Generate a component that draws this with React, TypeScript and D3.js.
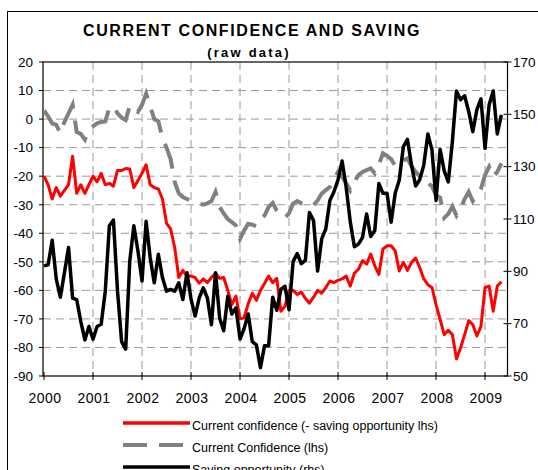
import React from "react";
import * as d3 from "d3";

// monthly, Jan 2000 .. May 2009
const currentConfidenceNet = [
  -20, -23, -28, -24, -27, -25, -23, -13, -26, -23, -26, -23,
  -20, -22, -19, -23, -22.5, -23.5, -18, -18, -17.3, -17.5, -24, -21.5,
  -19, -16, -23, -24, -24.5, -28, -36.5, -38.5, -45, -55.5, -53, -55,
  -55, -55.5, -57.5, -56, -57.3, -55.5, -54, -55.8, -55.5, -60, -65, -62,
  -70, -69.6, -64.7, -61, -63.5, -60, -57.6, -55, -57.3, -55.8, -67.3, -65.6,
  -60, -60, -61.4, -60.6, -62.8, -64.5, -62.4, -60, -61, -59, -56.7, -57.3,
  -56.5, -56, -55, -58.5, -54, -52.6, -49.6, -50.8, -47.3, -51.4, -54.4, -45.5,
  -44.4, -44.4, -46.1, -53.2, -50.2, -53, -50.2, -48.7, -52, -56, -58, -59,
  -65, -70.2, -75.5, -74, -75.5, -84, -80.2, -75.5, -70.6, -72, -76, -72.6,
  -59, -58.5, -67.3, -58.5, -57,
];

const currentConfidence = [
  3, 1, -1.5, -2, -5, -1, 2, 5, -4.5, -5.2, -7.2, -3.8,
  -2.5, -1.5, -1, -0.8, 3.9, 4.5, 2, 0.5, -0.3, 4.7, 3.5, 2.5,
  5, 8.9, 4.5, 0, -0.8, -6.7, -10, -14, -22, -26, -27.3, -28,
  -28.5, -29, -29.6, -30, -29.5, -28.7, -25.5, -30.8, -33, -35, -36.1, -37.3,
  -42, -39, -36.7, -37, -37.5, -35, -33.8, -30.8, -29.4, -32, -33.5, -34.6,
  -33, -29.6, -28.7, -29.5, -30, -30.5, -30.2, -28.5, -26.1, -24.9, -23.8, -21,
  -18.5, -20.2, -22.5, -25, -22, -19.6, -18.5, -17.9, -17.3, -19, -16, -12,
  -12.9, -14, -16.5, -16, -14.5, -13.8, -16.5, -18.5, -20, -21, -22.5, -23.5,
  -26.7, -27.5, -34.6, -33.2, -30.6, -33.8, -31.5, -28, -25.5, -28.7, -26.5, -24.4,
  -19.6, -16.7, -20.2, -18.5, -15.5,
];

const savingOpportunity = [
  92.1, 92.5, 101.9, 87.0, 80.1, 89.5, 99.1, 79.8, 79.2, 70.9, 63.8, 68.9,
  64.1, 68.9, 69.8, 82.4, 107.4, 109.6, 82.4, 63.1, 60.3, 94.0, 107.4, 97.8,
  86.3, 109.1, 95.2, 85.6, 96.5, 87.6, 82.4, 83.1, 82.4, 85.6, 79.2, 89.5,
  79.4, 72.9, 79.8, 83.7, 79.8, 69.6, 89.5, 72.2, 67.3, 80.5, 73.7, 76.0,
  64.1, 68.1, 73.7, 63.1, 61.9, 53.2, 61.6, 61.6, 80.1, 75.1, 83.1, 84.3,
  75.3, 93.7, 96.8, 92.9, 94.2, 112.5, 109.4, 90.1, 102.4, 106.2, 117.1, 120.4,
  125.0, 132.2, 122.0, 108.9, 99.4, 100.4, 103.0, 111.9, 103.3, 105.6, 123.6, 119.8,
  119.8, 108.8, 119.8, 124.9, 137.7, 140.4, 130.6, 122.6, 125.0, 130.6, 142.5, 136.4,
  117.1, 136.6, 128.4, 124.2, 139.6, 158.9, 155.6, 157.1, 151.1, 143.4, 151.8, 155.9,
  137.0, 153.7, 158.9, 142.5, 149.8,
];

const years = [2000, 2001, 2002, 2003, 2004, 2005, 2006, 2007, 2008, 2009];
const leftTicks = [20, 10, 0, -10, -20, -30, -40, -50, -60, -70, -80, -90];
const rightTicks = [170, 150, 130, 110, 90, 70, 50];

const legendItems = [
  { label: "Current confidence (- saving opportunity lhs)", color: "#ff0000", dash: "none", width: 3.5 },
  { label: "Current Confidence (lhs)", color: "#808080", dash: "24,12", width: 4 },
  { label: "Saving opportunity (rhs)", color: "#000000", dash: "none", width: 3.5 },
];

const font = "'Liberation Sans', Arial, sans-serif";

export default function App() {
  const left = 43, right = 507.5, top = 62, bottom = 376;

  const x = d3.scaleLinear().domain([-0.25, 113.5]).range([left, right]);
  const yL = d3.scaleLinear().domain([-90, 20]).range([bottom, top]);
  const yR = d3.scaleLinear().domain([50, 170]).range([bottom, top]);

  const lineL = d3.line<number>().x((_, i) => x(i)).y(d => yL(d));
  const lineR = d3.line<number>().x((_, i) => x(i)).y(d => yR(d));

  const yearX = (yr: number) => x((yr - 2000) * 12);

  return (
    <svg width={538} height={470} style={{ position: "absolute", left: 0, top: 0, background: "#fff" }} fontFamily={font}>
      <rect x={7.5} y={11.5} width={600} height={600} fill="none" stroke="#000" strokeWidth={1} />

      <text x={252} y={36} textAnchor="middle" fontSize={16} fontWeight="bold" style={{ letterSpacing: "1.6px" }}>
        CURRENT CONFIDENCE AND SAVING
      </text>
      <text x={249} y={57} textAnchor="middle" fontSize={13} fontWeight="bold" style={{ letterSpacing: "2.2px" }}>
        (raw data)
      </text>

      {/* grid */}
      {leftTicks.filter(t => t !== 20 && t !== -90).map(t => (
        <line key={"h" + t} x1={left} x2={right} y1={yL(t)} y2={yL(t)} stroke="#9a9a9a" strokeDasharray="8,5" />
      ))}
      {years.slice(1).map(yr => (
        <line key={"v" + yr} x1={yearX(yr)} x2={yearX(yr)} y1={top} y2={bottom} stroke="#9a9a9a" strokeDasharray="8,5" />
      ))}

      <rect x={left} y={top} width={right - left} height={bottom - top} fill="none" stroke="#000" strokeWidth={1.2} />

      {/* left axis */}
      {leftTicks.map(t => (
        <g key={"l" + t}>
          <line x1={left - 4} x2={left} y1={yL(t)} y2={yL(t)} stroke="#000" />
          <text x={33} y={yL(t) + 4.8} textAnchor="end" fontSize={13.5}>{t}</text>
        </g>
      ))}
      {/* right axis */}
      {rightTicks.map(t => (
        <g key={"r" + t}>
          <line x1={right - 4} x2={right + 4} y1={yR(t)} y2={yR(t)} stroke="#000" />
          <text x={513} y={yR(t) + 4.8} fontSize={13.5}>{t}</text>
        </g>
      ))}
      {/* x axis */}
      {years.map(yr => (
        <g key={"x" + yr}>
          <line x1={yearX(yr)} x2={yearX(yr)} y1={bottom - 4} y2={bottom + 4} stroke="#000" />
          <text x={yearX(yr) + 1} y={403} textAnchor="middle" fontSize={14} style={{ letterSpacing: "0.5px" }}>{yr}</text>
        </g>
      ))}

      {/* series */}
      <path d={lineL(currentConfidenceNet) || ""} fill="none" stroke="#ff0000" strokeWidth={3} strokeLinejoin="round" />
      <path d={lineL(currentConfidence) || ""} fill="none" stroke="#808080" strokeWidth={4} strokeDasharray="26,12" />
      <path d={lineR(savingOpportunity) || ""} fill="none" stroke="#000" strokeWidth={3.5} strokeLinejoin="round" />

      {/* legend */}
      {legendItems.map((it, i) => {
        const ly = 423 + i * 22;
        return (
          <g key={it.label}>
            <line x1={123} x2={190} y1={ly} y2={ly} stroke={it.color} strokeWidth={it.width} strokeDasharray={it.dash} />
            <text x={192} y={ly + 7} fontSize={12.5}>{it.label}</text>
          </g>
        );
      })}
    </svg>
  );
}
